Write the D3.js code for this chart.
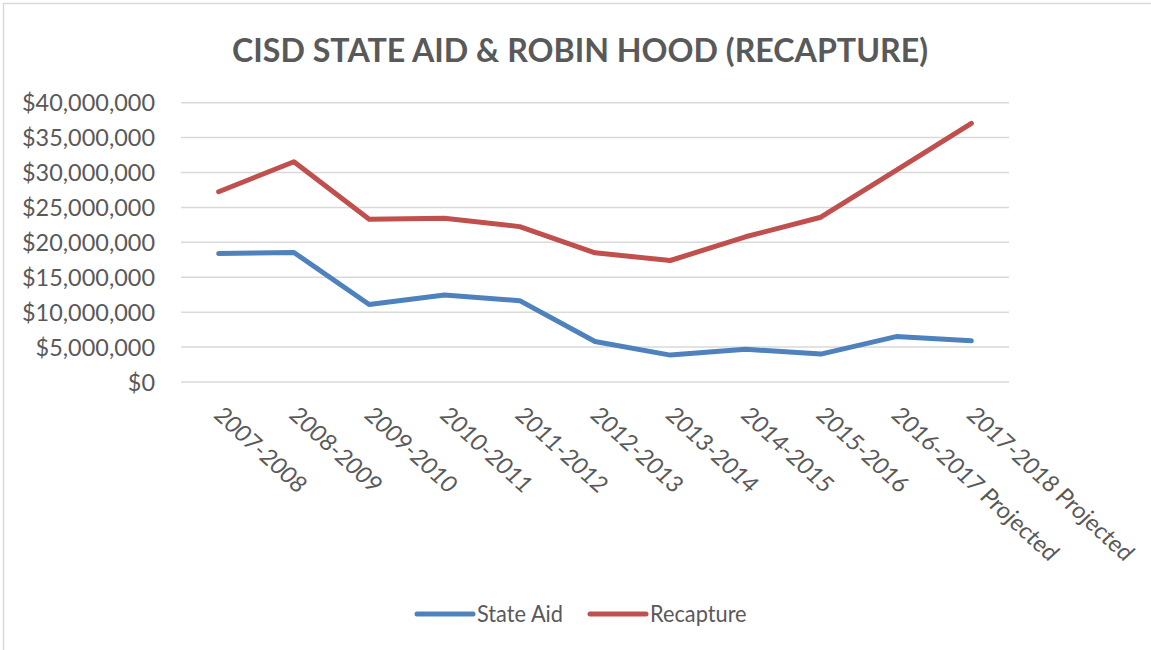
<!DOCTYPE html>
<html>
<head>
<meta charset="utf-8">
<script src="https://cdn.jsdelivr.net/npm/d3@7"></script>
<style>
  html, body { margin: 0; padding: 0; background: #fff; }
  svg { display: block; }
  text { font-family: Lato, "Open Sans", sans-serif; fill: #595959; }
</style>
</head>
<body>
<svg id="chart" width="1151" height="650"></svg>
<script>
const title = "CISD STATE AID & ROBIN HOOD (RECAPTURE)";
const categories = ["2007-2008", "2008-2009", "2009-2010", "2010-2011", "2011-2012",
  "2012-2013", "2013-2014", "2014-2015", "2015-2016", "2016-2017 Projected", "2017-2018 Projected"];
const stateAid = [18400000, 18550000, 11100000, 12450000, 11650000, 5800000, 3850000, 4700000, 4000000, 6500000, 5900000];
const recapture = [27250000, 31550000, 23300000, 23450000, 22250000, 18500000, 17400000, 20800000, 23600000, 30300000, 37050000];
const yTicks = [0, 5000000, 10000000, 15000000, 20000000, 25000000, 30000000, 35000000, 40000000];
const seriesNames = ["State Aid", "Recapture"];
const seriesColors = ["#4f81bd", "#c0504d"];

const svg = d3.select("#chart");
const W = 1151, H = 650;
const plot = { left: 181, right: 1009, top: 102.7, bottom: 382 };

// chart border
svg.append("rect").attr("x", 3.5).attr("y", 3.5).attr("width", W + 10).attr("height", H + 10)
  .attr("fill", "#fff").attr("stroke", "#d9d9d9").attr("stroke-width", 1.5);

const x = d3.scalePoint().domain(categories).range([plot.left, plot.right]).padding(0.5);
const y = d3.scaleLinear().domain([0, 40000000]).range([plot.bottom, plot.top]);

// fit helper: scale widths of a set of texts so the reference one has target width
function fitGroup(sel, refIndex, target) {
  const nodes = sel.nodes();
  const ref = nodes[refIndex].getComputedTextLength();
  const k = target / ref;
  nodes.forEach(n => {
    const w = n.getComputedTextLength();
    d3.select(n).attr("textLength", w * k).attr("lengthAdjust", "spacingAndGlyphs");
  });
}

// gridlines
svg.append("g").selectAll("line").data(yTicks).join("line")
  .attr("x1", plot.left).attr("x2", plot.right)
  .attr("y1", d => y(d)).attr("y2", d => y(d))
  .attr("stroke", "#d9d9d9").attr("stroke-width", 1.5);

// y axis labels
const fmt = d3.format("$,");
const yl = svg.append("g").selectAll("text").data(yTicks).join("text")
  .attr("x", 155).attr("y", d => y(d) + 8.5)
  .attr("text-anchor", "end")
  .attr("font-size", 23)
  .text(d => fmt(d));
fitGroup(yl, yTicks.length - 1, 133);

// x axis labels
const xg = svg.append("g");
const xl = xg.selectAll("text").data(categories).join("text")
  .attr("transform", d => `translate(${x(d)},${411}) scale(1.09,1) rotate(45)`)
  .attr("dy", "0.35em")
  .attr("font-size", 22.5)
  .text(d => d);
fitGroup(xl.filter(d => d.length <= 9), 0, 109.5);
fitGroup(xl.filter(d => d.length > 9), 0, 206);

// lines
const line = d3.line().x((d, i) => x(categories[i])).y(d => y(d));
[stateAid, recapture].forEach((s, i) => {
  svg.append("path").datum(s).attr("d", line)
    .attr("fill", "none").attr("stroke", seriesColors[i])
    .attr("stroke-width", 5).attr("stroke-linecap", "round").attr("stroke-linejoin", "round");
});

// title
const t = svg.append("text").attr("x", 580).attr("y", 62).attr("text-anchor", "middle")
  .attr("font-size", 32).attr("font-weight", "bold").text(title);
fitGroup(t, 0, 696);

// legend
const legendX = [417, 590];
const lg = svg.append("g");
seriesNames.forEach((n, i) => {
  lg.append("line").attr("x1", legendX[i]).attr("x2", legendX[i] + 56)
    .attr("y1", 614).attr("y2", 614)
    .attr("stroke", seriesColors[i]).attr("stroke-width", 5).attr("stroke-linecap", "round");
});
const lt = lg.selectAll("text").data(seriesNames).join("text")
  .attr("x", (d, i) => legendX[i] + 60).attr("y", 622)
  .attr("font-size", 23).text(d => d);
fitGroup(lt, 0, 86);
</script>
</body>
</html>
